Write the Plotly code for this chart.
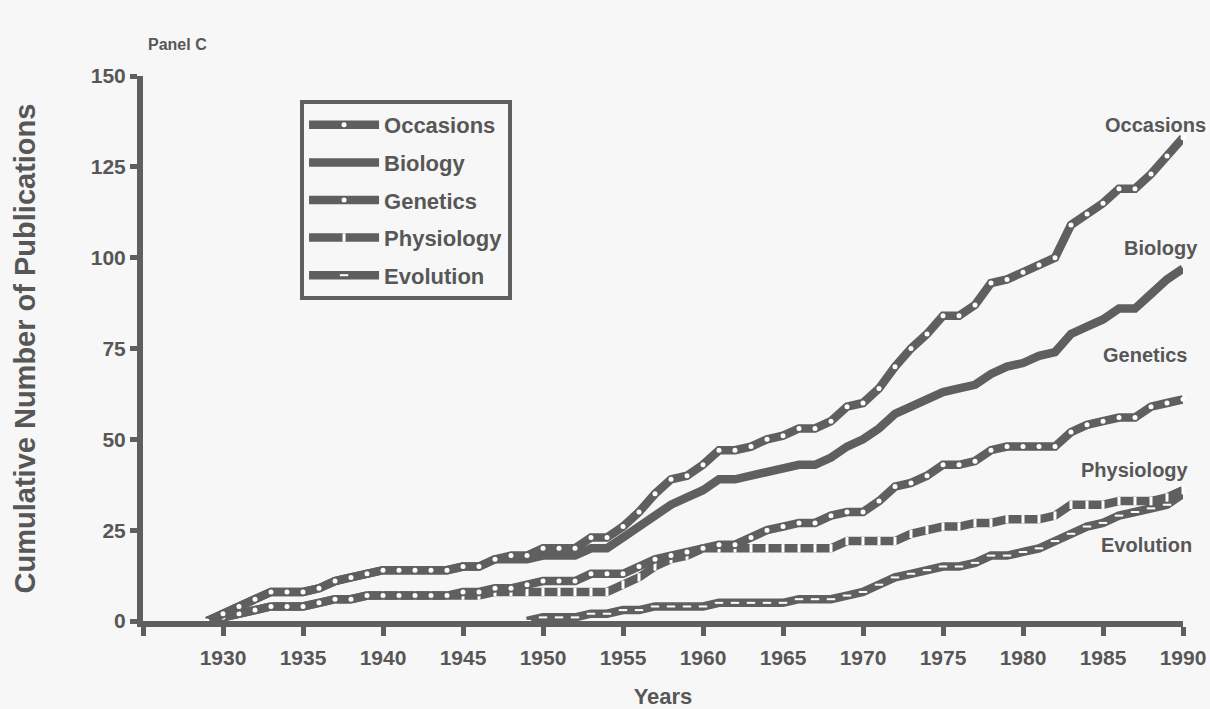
import plotly.graph_objects as go

years = list(range(1929, 1991))
evo_years = list(range(1949, 1991))

occasions = [0, 2, 4, 6, 8, 8, 8, 9, 11, 12, 13, 14, 14, 14, 14, 14, 15, 15, 17, 18, 18,
             20, 20, 20, 23, 23, 26, 30, 35, 39, 40, 43, 47, 47, 48, 50, 51, 53, 53, 55, 59,
             60, 64, 70, 75, 79, 84, 84, 87, 93, 94, 96, 98, 100, 109, 112, 115, 119, 119, 123, 128, 133]
biology = [0, 2, 4, 6, 8, 8, 8, 9, 11, 12, 13, 14, 14, 14, 14, 14, 15, 15, 17, 17, 17,
           18, 18, 18, 20, 20, 23, 26, 29, 32, 34, 36, 39, 39, 40, 41, 42, 43, 43, 45, 48,
           50, 53, 57, 59, 61, 63, 64, 65, 68, 70, 71, 73, 74, 79, 81, 83, 86, 86, 90, 94, 97]
genetics = [0, 1, 2, 3, 4, 4, 4, 5, 6, 6, 7, 7, 7, 7, 7, 7, 8, 8, 9, 9, 10,
            11, 11, 11, 13, 13, 13, 15, 17, 18, 19, 20, 21, 21, 23, 25, 26, 27, 27, 29, 30,
            30, 33, 37, 38, 40, 43, 43, 44, 47, 48, 48, 48, 48, 52, 54, 55, 56, 56, 59, 60, 61]
physiology = [0, 1, 2, 3, 4, 4, 4, 5, 6, 6, 7, 7, 7, 7, 7, 7, 7, 7, 8, 8, 8,
              8, 8, 8, 8, 8, 10, 12, 15, 17, 18, 20, 20, 20, 20, 20, 20, 20, 20, 20, 22,
              22, 22, 22, 24, 25, 26, 26, 27, 27, 28, 28, 28, 29, 32, 32, 32, 33, 33, 33, 34, 36]
evolution = [0, 1, 1, 1, 2, 2, 3, 3, 4, 4, 4, 4, 5, 5, 5, 5, 5, 6, 6, 6, 7,
             8, 10, 12, 13, 14, 15, 15, 16, 18, 18, 19, 20, 22, 24, 26, 27, 29, 30, 31, 32, 35]

x_ticks = [1925, 1930, 1935, 1940, 1945, 1950, 1955, 1960, 1965, 1970, 1975, 1980, 1985, 1990]
x_tick_text = ["", "1930", "1935", "1940", "1945", "1950", "1955", "1960", "1965", "1970",
               "1975", "1980", "1985", "1990"]
y_ticks = [0, 25, 50, 75, 100, 125, 150]

end_labels = ["Occasions", "Biology", "Genetics", "Physiology", "Evolution"]
end_label_x = [1988.3, 1988.6, 1987.6, 1987.0, 1987.7]
end_label_y = [136.5, 102.7, 73.2, 41.6, 20.9]

INK = "#5f5f5f"
TXT = "#575757"
BG = "#f7f7f7"
FONT = "Liberation Sans"

fig = go.Figure()

def add(name, rank, xs, ys, marker):
    fig.add_trace(go.Scatter(
        x=xs, y=ys, name=name, mode="lines+markers" if marker else "lines",
        line=dict(color=INK, width=8.5),
        marker=marker if marker else None,
        legendgroup=name, legendrank=rank, cliponaxis=False,
    ))

# lower lines first so the upper ones overlap like the reference
add("Evolution", 5, evo_years, evolution,
    dict(symbol="line-ew", size=6, color="white", line=dict(color="white", width=2)))
add("Physiology", 4, years, physiology,
    dict(symbol="line-ns", size=6, color="white", line=dict(color="white", width=3)))
add("Genetics", 3, years, genetics,
    dict(symbol="circle", size=5, color="white", line=dict(width=0)))
add("Biology", 2, years, biology, None)
add("Occasions", 1, years, occasions,
    dict(symbol="circle", size=5, color="white", line=dict(width=0)))

for t, xx, yy in zip(end_labels, end_label_x, end_label_y):
    fig.add_annotation(x=xx, y=yy, text=t, showarrow=False,
                       font=dict(family=FONT, size=20, color=TXT, weight="bold"))

fig.add_annotation(xref="paper", yref="paper", x=0.033, y=1.057, text="Panel C",
                   showarrow=False, xanchor="center", yanchor="middle",
                   font=dict(family=FONT, size=16, color=TXT, weight="bold"))

fig.update_layout(
    width=1210, height=709,
    paper_bgcolor=BG, plot_bgcolor=BG,
    margin=dict(l=143, r=27, t=76, b=88),
    showlegend=True,
    legend=dict(
        x=0.151, y=0.956, xanchor="left", yanchor="top",
        traceorder="grouped", tracegroupgap=6,
        bordercolor=INK, borderwidth=4, bgcolor=BG,
        font=dict(family=FONT, size=22, color=TXT, weight="bold"),
        itemwidth=70,
    ),
    xaxis=dict(
        range=[1925, 1990], tickvals=x_ticks, ticktext=x_tick_text,
        showgrid=False, zeroline=False,
        showline=True, linecolor=INK, linewidth=6, automargin=False,
        ticks="outside", ticklen=9, tickwidth=5, tickcolor=INK,
        ticklabelstandoff=4,
        tickfont=dict(family=FONT, size=21, color=TXT, weight="bold"),
        title=dict(text="Years", standoff=32,
                   font=dict(family=FONT, size=22, color=TXT, weight="bold")),
    ),
    yaxis=dict(
        range=[0, 150], tickvals=y_ticks, showgrid=False, zeroline=False,
        showline=True, linecolor=INK, linewidth=6, automargin=False,
        ticks="outside", ticklen=7, tickwidth=5, tickcolor=INK,
        tickfont=dict(family=FONT, size=21, color=TXT, weight="bold"),
        title=dict(text="Cumulative Number of Publications", standoff=49,
                   font=dict(family=FONT, size=29, color=TXT, weight="bold")),
    ),
)

fig.write_html(
    "out.html",
    config={"displayModeBar": False},
    post_script="document.body.style.margin='0';document.body.style.background='#f7f7f7';",
)
